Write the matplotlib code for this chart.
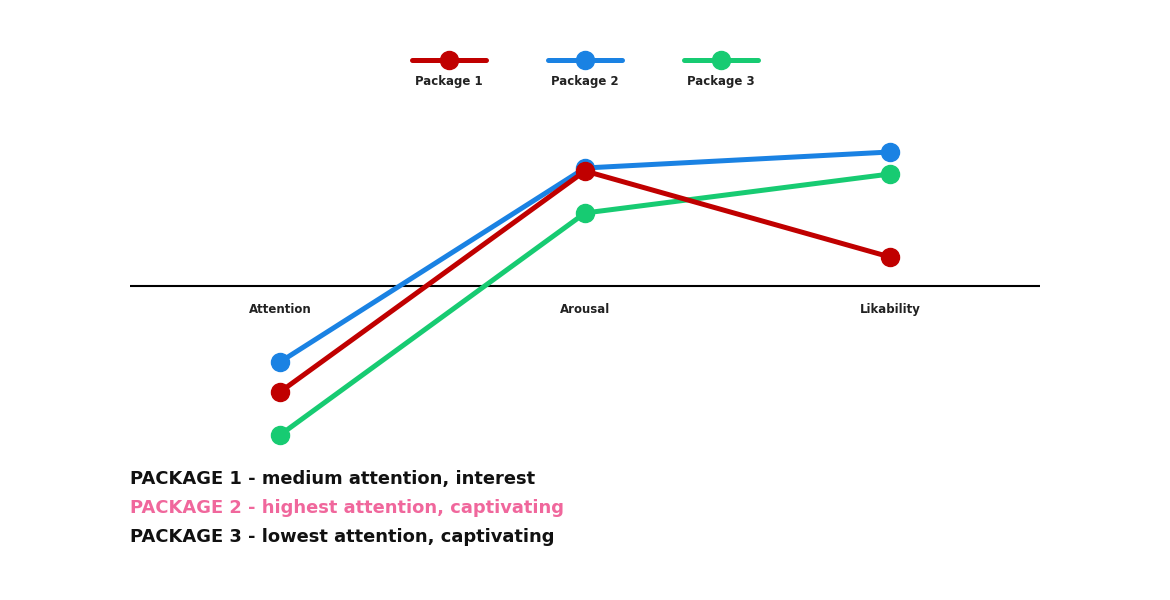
import matplotlib.pyplot as plt
from matplotlib.lines import Line2D

# categories and scores (relative to the baseline)
categories = ["Attention", "Arousal", "Likability"]
package_1 = [-1.06, 1.15, 0.29]
package_2 = [-0.76, 1.18, 1.34]
package_3 = [-1.49, 0.73, 1.12]

series_names = ["Package 1", "Package 2", "Package 3"]
series_colors = ["#c00000", "#1a82e3", "#17cb72"]

notes = [
    "PACKAGE 1 - medium attention, interest",
    "PACKAGE 2 - highest attention, captivating",
    "PACKAGE 3 - lowest attention, captivating",
]
note_colors = ["#111111", "#f0679c", "#111111"]

plt.rcParams['font.family'] = ['DejaVu Sans']

fig = plt.figure(figsize=(11.7, 6), dpi=100)
ax = fig.add_axes([130 / 1170, 1 - 460 / 600, 910 / 1170, 360 / 600])

x = list(range(len(categories)))
all_series = [package_1, package_2, package_3]
zorders = [5, 4, 3]
for vals, col, z in zip(all_series, series_colors, zorders):
    ax.plot(x, vals, color=col, lw=3.6, marker="o", markersize=13,
            solid_capstyle="round", zorder=z)

ax.axhline(0, color="black", lw=1.5, zorder=1)
ax.set_xlim(-0.492, 2.492)
ax.set_ylim(-1.74, 1.86)
for s in ax.spines.values():
    s.set_visible(False)
ax.set_yticks([])
ax.set_xticks([])

# category labels just below the baseline
for xi, cat in zip(x, categories):
    ax.annotate(cat, xy=(xi, 0), xytext=(0, -17), textcoords="offset points",
                ha="center", va="center", fontsize=8.5, fontweight="bold",
                color="#222222")

# legend: line + marker with the label under it
leg_x = [449, 585, 721]
for cx, name, col in zip(leg_x, series_names, series_colors):
    fx = cx / 1170
    fy = 1 - 60 / 600
    fig.add_artist(Line2D([fx - 37 / 1170, fx + 37 / 1170], [fy, fy],
                          color=col, lw=3.6, solid_capstyle="round",
                          marker=None, transform=fig.transFigure))
    fig.add_artist(Line2D([fx], [fy], color=col, marker="o", markersize=13,
                          transform=fig.transFigure))
    fig.text(fx, 1 - 82 / 600, name, ha="center", va="center",
             fontsize=8.5, fontweight="bold", color="#222222")

# notes at the bottom
for i, (txt, col) in enumerate(zip(notes, note_colors)):
    fig.text(130 / 1170, 1 - (479 + 29 * i) / 600, txt, ha="left", va="center",
             fontsize=12.9, fontweight="bold", color=col)

fig.savefig("out.png", dpi=100, facecolor="white")
